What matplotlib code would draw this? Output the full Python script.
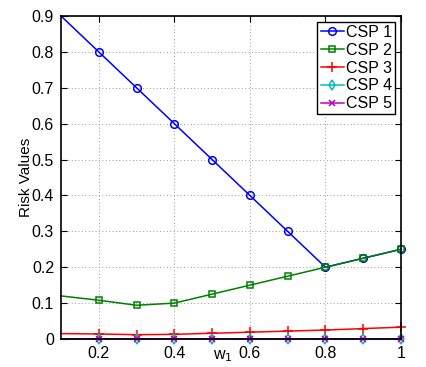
import numpy as np
import matplotlib
matplotlib.use("Agg")
import matplotlib.pyplot as plt

plt.rcParams['font.family'] = ['Liberation Sans', 'DejaVu Sans']

w1 = [0.1, 0.2, 0.3, 0.4, 0.5, 0.6, 0.7, 0.8, 0.9, 1.0]
csp1 = [0.9, 0.8, 0.7, 0.6, 0.5, 0.4, 0.3, 0.2, 0.225, 0.25]
csp2 = [0.12, 0.108, 0.094, 0.1, 0.125, 0.15, 0.175, 0.2, 0.225, 0.25]
csp3 = [0.015, 0.014, 0.012, 0.013, 0.016, 0.019, 0.022, 0.025, 0.029, 0.033]
csp4 = [0, 0, 0, 0, 0, 0, 0, 0, 0, 0]
csp5 = [0, 0, 0, 0, 0, 0, 0, 0, 0, 0]
names = ['CSP 1', 'CSP 2', 'CSP 3', 'CSP 4', 'CSP 5']
xticks = [0.2, 0.4, 0.6, 0.8, 1.0]
xticklabels = ['0.2', '0.4', '0.6', '0.8', '1']
yticks = [0, 0.1, 0.2, 0.3, 0.4, 0.5, 0.6, 0.7, 0.8, 0.9]
yticklabels = ['0', '0.1', '0.2', '0.3', '0.4', '0.5', '0.6', '0.7', '0.8', '0.9']

fig = plt.figure(figsize=(4.26, 3.67), dpi=100)
ax = fig.add_axes([61/426, 1 - 339/367, 340/426, 323/367])

styles = [('b', 'o', 5.5), ('g', 's', 4.5), ('r', '+', 7), ('c', 'd', 5), ('m', 'x', 4.5)]
for ys, name, (c, m, ms) in zip([csp1, csp2, csp3, csp4, csp5], names, styles):
    ax.plot(w1, ys, color=c, marker=m, markersize=ms, markerfacecolor='none',
            markeredgewidth=1.1, linewidth=1.1, label=name,
            markevery=slice(1, None), clip_on=False)

ax.set_xlim(0.1, 1.0)
ax.set_ylim(0, 0.9)
ax.set_xticks(xticks)
ax.set_xticklabels(xticklabels)
ax.set_yticks(yticks)
ax.set_yticklabels(yticklabels)
ax.tick_params(direction='in', top=True, right=True, labelsize=11.5, length=4, pad=5)
ax.grid(True, linestyle=(0, (1, 2.5)), color='#999999', linewidth=0.7)
for s in ax.spines.values():
    s.set_linewidth(1.2)
    s.set_color('black')

ax.set_ylabel('Risk Values', fontsize=11)
ax.set_xlabel('w$_1$', fontsize=11.5)
ax.xaxis.set_label_coords(0.475, -0.03)
ax.yaxis.set_label_coords(-0.082, 0.5)

leg = ax.legend(loc='upper right', fontsize=11.5, fancybox=False, framealpha=1,
                edgecolor='black', borderpad=0.2, labelspacing=0.18,
                handlelength=1.45, handletextpad=0.15, borderaxespad=0.35)
leg.get_frame().set_linewidth(1.0)

fig.savefig('out.png', dpi=100)
